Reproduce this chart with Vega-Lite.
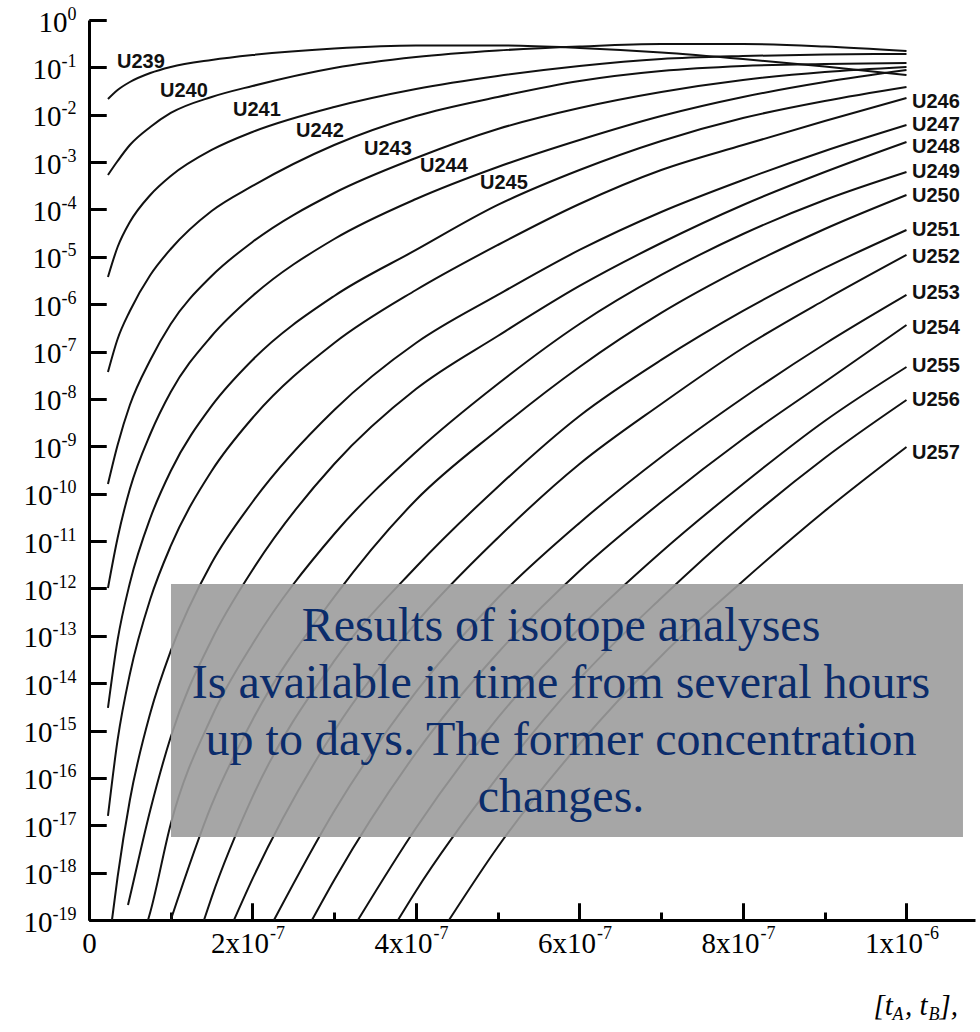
{
  "$schema": "https://vega.github.io/schema/vega-lite/v6.json",
  "width": 886,
  "height": 900,
  "autosize": {"type": "none"},
  "padding": {"left": 89, "top": 20, "right": 5, "bottom": 112},
  "background": "white",
  "config": {"view": {"stroke": null}},
  "datasets": {
    "curves": [
      {"iso":"U239","t":2.32e-8,"c":0.0215},{"iso":"U239","t":3.5e-8,"c":0.0333},{"iso":"U239","t":5e-8,"c":0.0491},{"iso":"U239","t":7.5e-8,"c":0.076},{"iso":"U239","t":1e-7,"c":0.1019},{"iso":"U239","t":1.5e-7,"c":0.1432},{"iso":"U239","t":2e-7,"c":0.1824},{"iso":"U239","t":3e-7,"c":0.25},{"iso":"U239","t":4e-7,"c":0.2897},{"iso":"U239","t":5e-7,"c":0.2897},{"iso":"U239","t":6e-7,"c":0.2564},{"iso":"U239","t":7e-7,"c":0.2061},{"iso":"U239","t":8e-7,"c":0.1503},{"iso":"U239","t":9e-7,"c":0.1042},{"iso":"U239","t":1e-6,"c":0.069},
      {"iso":"U240","t":2.32e-8,"c":5.35e-4},{"iso":"U240","t":3.5e-8,"c":1.054e-3},{"iso":"U240","t":5e-8,"c":2.296e-3},{"iso":"U240","t":7.5e-8,"c":5.508e-3},{"iso":"U240","t":1e-7,"c":1.089e-2},{"iso":"U240","t":1.5e-7,"c":2.371e-2},{"iso":"U240","t":2e-7,"c":4.046e-2},{"iso":"U240","t":3e-7,"c":9.7e-2},{"iso":"U240","t":4e-7,"c":0.1656},{"iso":"U240","t":5e-7,"c":0.227},{"iso":"U240","t":6e-7,"c":0.2761},{"iso":"U240","t":7e-7,"c":0.3112},{"iso":"U240","t":8e-7,"c":0.3112},{"iso":"U240","t":9e-7,"c":0.2761},{"iso":"U240","t":1e-6,"c":0.2218},
      {"iso":"U241","t":2.32e-8,"c":3.758e-6},{"iso":"U241","t":3.5e-8,"c":1.614e-5},{"iso":"U241","t":5e-8,"c":5.445e-5},{"iso":"U241","t":7.5e-8,"c":2.023e-4},{"iso":"U241","t":1e-7,"c":5.093e-4},{"iso":"U241","t":1.5e-7,"c":1.803e-3},{"iso":"U241","t":2e-7,"c":4.325e-3},{"iso":"U241","t":3e-7,"c":1.455e-2},{"iso":"U241","t":4e-7,"c":3.491e-2},{"iso":"U241","t":5e-7,"c":6.577e-2},{"iso":"U241","t":6e-7,"c":0.1069},{"iso":"U241","t":7e-7,"c":0.1503},{"iso":"U241","t":8e-7,"c":0.1738},{"iso":"U241","t":9e-7,"c":0.1871},{"iso":"U241","t":1e-6,"c":0.1914},
      {"iso":"U242","t":2.32e-8,"c":3.707e-8},{"iso":"U242","t":3.5e-8,"c":1.845e-7},{"iso":"U242","t":5e-8,"c":7.194e-7},{"iso":"U242","t":7.5e-8,"c":4.14e-6},{"iso":"U242","t":1e-7,"c":1.466e-5},{"iso":"U242","t":1.5e-7,"c":9.29e-5},{"iso":"U242","t":2e-7,"c":3.133e-4},{"iso":"U242","t":3e-7,"c":2.296e-3},{"iso":"U242","t":4e-7,"c":9.4e-3},{"iso":"U242","t":5e-7,"c":2.371e-2},{"iso":"U242","t":6e-7,"c":5.152e-2},{"iso":"U242","t":7e-7,"c":8.375e-2},{"iso":"U242","t":8e-7,"c":0.1069},{"iso":"U242","t":9e-7,"c":0.1178},{"iso":"U242","t":1e-6,"c":0.1236},
      {"iso":"U243","t":2.32e-8,"c":1.603e-10},{"iso":"U243","t":3.5e-8,"c":1.067e-9},{"iso":"U243","t":5e-8,"c":7.464e-9},{"iso":"U243","t":7.5e-8,"c":6.653e-8},{"iso":"U243","t":1e-7,"c":3.828e-7},{"iso":"U243","t":1.5e-7,"c":3.945e-6},{"iso":"U243","t":2e-7,"c":2.061e-5},{"iso":"U243","t":3e-7,"c":2.228e-4},{"iso":"U243","t":4e-7,"c":1.222e-3},{"iso":"U243","t":5e-7,"c":5.0e-3},{"iso":"U243","t":6e-7,"c":1.387e-2},{"iso":"U243","t":7e-7,"c":3.02e-2},{"iso":"U243","t":8e-7,"c":5.408e-2},{"iso":"U243","t":9e-7,"c":7.98e-2},{"iso":"U243","t":1e-6,"c":0.1019},
      {"iso":"U244","t":2.32e-8,"c":1.023e-12},{"iso":"U244","t":3.5e-8,"c":1.161e-11},{"iso":"U244","t":5e-8,"c":1.256e-10},{"iso":"U244","t":7.5e-8,"c":1.82e-9},{"iso":"U244","t":1e-7,"c":1.403e-8},{"iso":"U244","t":1.5e-7,"c":2.133e-7},{"iso":"U244","t":2e-7,"c":1.493e-6},{"iso":"U244","t":3e-7,"c":2.382e-5},{"iso":"U244","t":4e-7,"c":1.663e-4},{"iso":"U244","t":5e-7,"c":7.889e-4},{"iso":"U244","t":6e-7,"c":2.931e-3},{"iso":"U244","t":7e-7,"c":9.4e-3},{"iso":"U244","t":8e-7,"c":2.371e-2},{"iso":"U244","t":9e-7,"c":4.91e-2},{"iso":"U244","t":1e-6,"c":8.79e-2},
      {"iso":"U245","t":2.32e-8,"c":2.992e-15},{"iso":"U245","t":3.5e-8,"c":8.166e-14},{"iso":"U245","t":5e-8,"c":1.303e-12},{"iso":"U245","t":7.5e-8,"c":3.069e-11},{"iso":"U245","t":1e-7,"c":3.013e-10},{"iso":"U245","t":1.5e-7,"c":7.112e-9},{"iso":"U245","t":2e-7,"c":6.653e-8},{"iso":"U245","t":3e-7,"c":1.493e-6},{"iso":"U245","t":4e-7,"c":1.396e-5},{"iso":"U245","t":5e-7,"c":1.245e-4},{"iso":"U245","t":6e-7,"c":6.808e-4},{"iso":"U245","t":7e-7,"c":2.793e-3},{"iso":"U245","t":8e-7,"c":8.531e-3},{"iso":"U245","t":9e-7,"c":1.95e-2},{"iso":"U245","t":1e-6,"c":3.855e-2},
      {"iso":"U246","t":2.32e-8,"c":1.57e-17},{"iso":"U246","t":3.5e-8,"c":6.324e-16},{"iso":"U246","t":5e-8,"c":1.563e-14},{"iso":"U246","t":7.5e-8,"c":5.984e-13},{"iso":"U246","t":1e-7,"c":7.87e-12},{"iso":"U246","t":1.5e-7,"c":3.013e-10},{"iso":"U246","t":2e-7,"c":3.963e-9},{"iso":"U246","t":3e-7,"c":1.517e-7},{"iso":"U246","t":4e-7,"c":1.995e-6},{"iso":"U246","t":5e-7,"c":1.778e-5},{"iso":"U246","t":6e-7,"c":1.306e-4},{"iso":"U246","t":7e-7,"c":6.808e-4},{"iso":"U246","t":8e-7,"c":2.296e-3},{"iso":"U246","t":9e-7,"c":7.379e-3},{"iso":"U246","t":1e-6,"c":2.254e-2},
      {"iso":"U247","t":2.81e-8,"c":1e-19},{"iso":"U247","t":3.5e-8,"c":8.09e-19},{"iso":"U247","t":5e-8,"c":3.42e-17},{"iso":"U247","t":7.5e-8,"c":2.35e-15},{"iso":"U247","t":1e-7,"c":4.786e-14},{"iso":"U247","t":1.5e-7,"c":3.443e-12},{"iso":"U247","t":2e-7,"c":6.683e-11},{"iso":"U247","t":3e-7,"c":5.848e-9},{"iso":"U247","t":4e-7,"c":1.517e-7},{"iso":"U247","t":5e-7,"c":1.567e-6},{"iso":"U247","t":6e-7,"c":1.396e-5},{"iso":"U247","t":7e-7,"c":8.851e-5},{"iso":"U247","t":8e-7,"c":4.188e-4},{"iso":"U247","t":9e-7,"c":1.718e-3},{"iso":"U247","t":1e-6,"c":6.067e-3},
      {"iso":"U248","t":4.77e-8,"c":2.075e-19},{"iso":"U248","t":5e-8,"c":3.062e-19},{"iso":"U248","t":7.5e-8,"c":2.104e-17},{"iso":"U248","t":1e-7,"c":7.311e-16},{"iso":"U248","t":1.5e-7,"c":8.166e-14},{"iso":"U248","t":2e-7,"c":2.449e-12},{"iso":"U248","t":3e-7,"c":4.236e-10},{"iso":"U248","t":4e-7,"c":1.622e-8},{"iso":"U248","t":5e-7,"c":2.133e-7},{"iso":"U248","t":6e-7,"c":2.427e-6},{"iso":"U248","t":7e-7,"c":1.959e-5},{"iso":"U248","t":8e-7,"c":1.245e-4},{"iso":"U248","t":9e-7,"c":6.18e-4},{"iso":"U248","t":1e-6,"c":2.661e-3},
      {"iso":"U249","t":7.22e-8,"c":1e-19},{"iso":"U249","t":7.5e-8,"c":1.476e-19},{"iso":"U249","t":1e-7,"c":1.067e-17},{"iso":"U249","t":1.5e-7,"c":1.932e-15},{"iso":"U249","t":2e-7,"c":6.714e-14},{"iso":"U249","t":3e-7,"c":1.409e-11},{"iso":"U249","t":4e-7,"c":7.586e-10},{"iso":"U249","t":5e-7,"c":2.07e-8},{"iso":"U249","t":6e-7,"c":3.828e-7},{"iso":"U249","t":7e-7,"c":4.14e-6},{"iso":"U249","t":8e-7,"c":3.034e-5},{"iso":"U249","t":9e-7,"c":1.585e-4},{"iso":"U249","t":1e-6,"c":6.18e-4},
      {"iso":"U250","t":1e-7,"c":1e-19},{"iso":"U250","t":1.5e-7,"c":2.679e-17},{"iso":"U250","t":2e-7,"c":1.671e-15},{"iso":"U250","t":3e-7,"c":6.607e-13},{"iso":"U250","t":4e-7,"c":7.362e-11},{"iso":"U250","t":5e-7,"c":2.213e-9},{"iso":"U250","t":6e-7,"c":4.732e-8},{"iso":"U250","t":7e-7,"c":6.531e-7},{"iso":"U250","t":8e-7,"c":5.821e-6},{"iso":"U250","t":9e-7,"c":3.873e-5},{"iso":"U250","t":1e-6,"c":2.023e-4},
      {"iso":"U251","t":1.407e-7,"c":1e-19},{"iso":"U251","t":1.5e-7,"c":3.006e-19},{"iso":"U251","t":2e-7,"c":3.963e-17},{"iso":"U251","t":3e-7,"c":2.944e-14},{"iso":"U251","t":4e-7,"c":2.838e-12},{"iso":"U251","t":5e-7,"c":1.387e-10},{"iso":"U251","t":6e-7,"c":4.375e-9},{"iso":"U251","t":7e-7,"c":6.653e-8},{"iso":"U251","t":8e-7,"c":7.194e-7},{"iso":"U251","t":9e-7,"c":5.821e-6},{"iso":"U251","t":1e-6,"c":3.69e-5},
      {"iso":"U252","t":1.774e-7,"c":1e-19},{"iso":"U252","t":2e-7,"c":7.362e-19},{"iso":"U252","t":3e-7,"c":9.795e-16},{"iso":"U252","t":4e-7,"c":1.866e-13},{"iso":"U252","t":5e-7,"c":1.161e-11},{"iso":"U252","t":6e-7,"c":4.236e-10},{"iso":"U252","t":7e-7,"c":7.834e-9},{"iso":"U252","t":8e-7,"c":1.191e-7},{"iso":"U252","t":9e-7,"c":1.227e-6},{"iso":"U252","t":1e-6,"c":1.094e-5},
      {"iso":"U253","t":2.263e-7,"c":1e-19},{"iso":"U253","t":3e-7,"c":2.004e-17},{"iso":"U253","t":4e-7,"c":6.516e-15},{"iso":"U253","t":5e-7,"c":6.281e-13},{"iso":"U253","t":6e-7,"c":2.41e-11},{"iso":"U253","t":7e-7,"c":5.957e-10},{"iso":"U253","t":8e-7,"c":1.047e-8},{"iso":"U253","t":9e-7,"c":1.445e-7},{"iso":"U253","t":1e-6,"c":1.567e-6},
      {"iso":"U254","t":2.728e-7,"c":1e-19},{"iso":"U254","t":3e-7,"c":6.998e-19},{"iso":"U254","t":4e-7,"c":3.357e-16},{"iso":"U254","t":5e-7,"c":4.335e-14},{"iso":"U254","t":6e-7,"c":2.333e-12},{"iso":"U254","t":7e-7,"c":6.683e-11},{"iso":"U254","t":8e-7,"c":1.429e-9},{"iso":"U254","t":9e-7,"c":2.28e-8},{"iso":"U254","t":1e-6,"c":3.639e-7},
      {"iso":"U255","t":3.29e-7,"c":1e-19},{"iso":"U255","t":4e-7,"c":8.77e-18},{"iso":"U255","t":5e-7,"c":1.841e-15},{"iso":"U255","t":6e-7,"c":1.462e-13},{"iso":"U255","t":7e-7,"c":5.875e-12},{"iso":"U255","t":8e-7,"c":1.603e-10},{"iso":"U255","t":9e-7,"c":3.428e-9},{"iso":"U255","t":1e-6,"c":4.732e-8},
      {"iso":"U256","t":3.78e-7,"c":1e-19},{"iso":"U256","t":4e-7,"c":4.102e-19},{"iso":"U256","t":5e-7,"c":1.047e-16},{"iso":"U256","t":6e-7,"c":1.227e-14},{"iso":"U256","t":7e-7,"c":6.281e-13},{"iso":"U256","t":8e-7,"c":2.296e-11},{"iso":"U256","t":9e-7,"c":5.675e-10},{"iso":"U256","t":1e-6,"c":9.506e-9},
      {"iso":"U257","t":4.404e-7,"c":1e-19},{"iso":"U257","t":5e-7,"c":3.483e-18},{"iso":"U257","t":6e-7,"c":5.2e-16},{"iso":"U257","t":7e-7,"c":3.75e-14},{"iso":"U257","t":8e-7,"c":1.436e-12},{"iso":"U257","t":9e-7,"c":4.315e-11},{"iso":"U257","t":1e-6,"c":9.683e-10}
    ],
    "labels": [
      {"lab":"U239","t":3.425e-8,"c":0.1297},{"lab":"U240","t":8.685e-8,"c":3.17e-2},{"lab":"U241","t":1.7615e-7,"c":1.259e-2},{"lab":"U242","t":2.532e-7,"c":4.539e-3},{"lab":"U243","t":3.364e-7,"c":1.892e-3},{"lab":"U244","t":4.049e-7,"c":8.279e-4},{"lab":"U245","t":4.783e-7,"c":3.622e-4},
      {"lab":"U246","t":1.0067e-6,"c":1.858e-2},{"lab":"U247","t":1.0067e-6,"c":6.067e-3},{"lab":"U248","t":1.0067e-6,"c":2.084e-3},{"lab":"U249","t":1.0067e-6,"c":6.18e-4},{"lab":"U250","t":1.0067e-6,"c":1.928e-4},{"lab":"U251","t":1.0067e-6,"c":3.69e-5},{"lab":"U252","t":1.0067e-6,"c":9.93e-6},{"lab":"U253","t":1.0067e-6,"c":1.726e-6},{"lab":"U254","t":1.0067e-6,"c":3.148e-7},{"lab":"U255","t":1.0067e-6,"c":4.966e-8},{"lab":"U256","t":1.0067e-6,"c":9.506e-9},{"lab":"U257","t":1.0067e-6,"c":7.228e-10}
    ],
    "box": [{"t1":1.003e-7,"t2":1.0691e-6,"c1":1.242e-12,"c2":5.662e-18}],
    "note": [{"txt":"Results of isotope analyses\nIs available in time from several hours\nup to days. The former concentration\nchanges.","t":5.774e-7,"c":1.535e-13}]
  },
  "layer": [
    {
      "data": {"name": "curves"},
      "mark": {"type": "line", "interpolate": "monotone", "stroke": "#111111", "strokeWidth": 2},
      "encoding": {
        "x": {"field": "t", "type": "quantitative",
          "scale": {"domain": [0, 1.0838e-6], "nice": false, "zero": false},
          "axis": {"orient": "bottom", "values": [0, 2e-7, 4e-7, 6e-7, 8e-7, 1e-6], "grid": false,
            "labelExpr": "datum.value == 0 ? '0' : (datum.value > 9.5e-7 ? '1x10' : format(round(datum.value*1e7),'d') + 'x10')",
            "tickSize": -17, "tickWidth": 3, "tickColor": "black", "domainWidth": 3, "domainColor": "black",
            "labelFont": "Liberation Serif", "labelFontSize": 29, "labelColor": "black", "labelPadding": 26, "labelFlush": false, "labelOverlap": false,
            "labelOffset": {"condition": {"test": "datum.value == 0", "value": 0}, "value": -13},
            "title": "[t\u2005\u2006, t\u2005\u2006],", "titleFont": "Liberation Serif", "titleFontSize": 29, "titleFontStyle": "italic", "titleFontWeight": "normal", "titleColor": "black",
            "titleAnchor": "start", "titleAlign": "left", "titleBaseline": "middle", "titleX": 784, "titleY": 85}},
        "y": {"field": "c", "type": "quantitative",
          "scale": {"type": "log", "domain": [1e-19, 1], "nice": false},
          "axis": {"orient": "left", "values": [1, 1e-1, 1e-2, 1e-3, 1e-4, 1e-5, 1e-6, 1e-7, 1e-8, 1e-9, 1e-10, 1e-11, 1e-12, 1e-13, 1e-14, 1e-15, 1e-16, 1e-17, 1e-18, 1e-19],
            "grid": false,
            "labelExpr": "'10'",
            "tickSize": -17, "tickWidth": 3, "tickColor": "black", "domainWidth": 3, "domainColor": "black",
            "labelFont": "Liberation Serif", "labelFontSize": 29, "labelColor": "black",
            "labelPadding": {"condition": [{"test": "datum.value > 0.5", "value": 39}, {"test": "datum.value < 1.5e-10", "value": 54}], "value": 45},
            "labelFlush": false, "labelOverlap": false, "labelBaseline": "middle", "labelAlign": "right", "labelOffset": 2,
            "title": null}},
        "detail": {"field": "iso", "type": "nominal"}
      }
    },
    {
      "data": {"name": "box"},
      "mark": {"type": "rect", "fill": "#9c9c9c", "opacity": 0.9},
      "encoding": {
        "x": {"field": "t1", "type": "quantitative",
          "axis": {"orient": "bottom", "values": [1e-7, 3e-7, 5e-7, 7e-7, 9e-7], "tickSize": -8, "tickWidth": 3, "tickColor": "black", "labels": false, "domain": false, "grid": false,
            "title": "A", "titleFont": "Liberation Serif", "titleFontSize": 18, "titleFontStyle": "italic", "titleFontWeight": "normal", "titleColor": "black",
            "titleAnchor": "start", "titleAlign": "left", "titleBaseline": "middle", "titleX": 803, "titleY": 94}},
        "x2": {"field": "t2"},
        "y": {"field": "c1", "type": "quantitative",
          "axis": {"orient": "left", "values": [1, 1e-1, 1e-2, 1e-3, 1e-4, 1e-5, 1e-6, 1e-7, 1e-8, 1e-9, 1e-10, 1e-11, 1e-12, 1e-13, 1e-14, 1e-15, 1e-16, 1e-17, 1e-18, 1e-19],
            "grid": false, "domain": false,
            "labelExpr": "datum.value > 0.5 ? '0' : '-' + format(round(-log(datum.value)/LN10), 'd')",
            "tickSize": -17, "tickWidth": 3, "tickColor": "black",
            "labelFont": "Liberation Serif", "labelFontSize": 18, "labelColor": "black", "labelPadding": 30, "labelFlush": false, "labelOverlap": false, "labelBaseline": "middle", "labelAlign": "right", "labelOffset": -6,
            "title": null}},
        "y2": {"field": "c2"}
      }
    },
    {
      "data": {"name": "note"},
      "mark": {"type": "text", "font": "Liberation Serif", "fontSize": 48, "color": "#0b2c6b", "align": "center", "baseline": "middle", "lineBreak": "\n", "lineHeight": 57},
      "encoding": {
        "x": {"field": "t", "type": "quantitative",
          "axis": {"orient": "bottom", "values": [2e-7, 4e-7, 6e-7, 8e-7, 1e-6], "grid": false, "domain": false,
            "labelExpr": "datum.value > 9.5e-7 ? '-6' : '-7'",
            "tickSize": -17, "tickWidth": 3, "tickColor": "black",
            "labelFont": "Liberation Serif", "labelFontSize": 18, "labelColor": "black", "labelPadding": 21, "labelAlign": "left", "labelOffset": 17, "labelFlush": false, "labelOverlap": false,
            "title": "B", "titleFont": "Liberation Serif", "titleFontSize": 18, "titleFontStyle": "italic", "titleFontWeight": "normal", "titleColor": "black",
            "titleAnchor": "start", "titleAlign": "left", "titleBaseline": "middle", "titleX": 839, "titleY": 94}},
        "y": {"field": "c", "type": "quantitative", "axis": null},
        "text": {"field": "txt"}
      }
    },
    {
      "data": {"name": "labels"},
      "mark": {"type": "text", "font": "Liberation Sans", "fontWeight": "bold", "fontSize": 20, "color": "#111111", "align": "left", "baseline": "middle"},
      "encoding": {
        "x": {"field": "t", "type": "quantitative", "axis": null},
        "y": {"field": "c", "type": "quantitative", "axis": null},
        "text": {"field": "lab"}
      }
    }
  ],
  "resolve": {"axis": {"x": "independent", "y": "independent"}}
}
